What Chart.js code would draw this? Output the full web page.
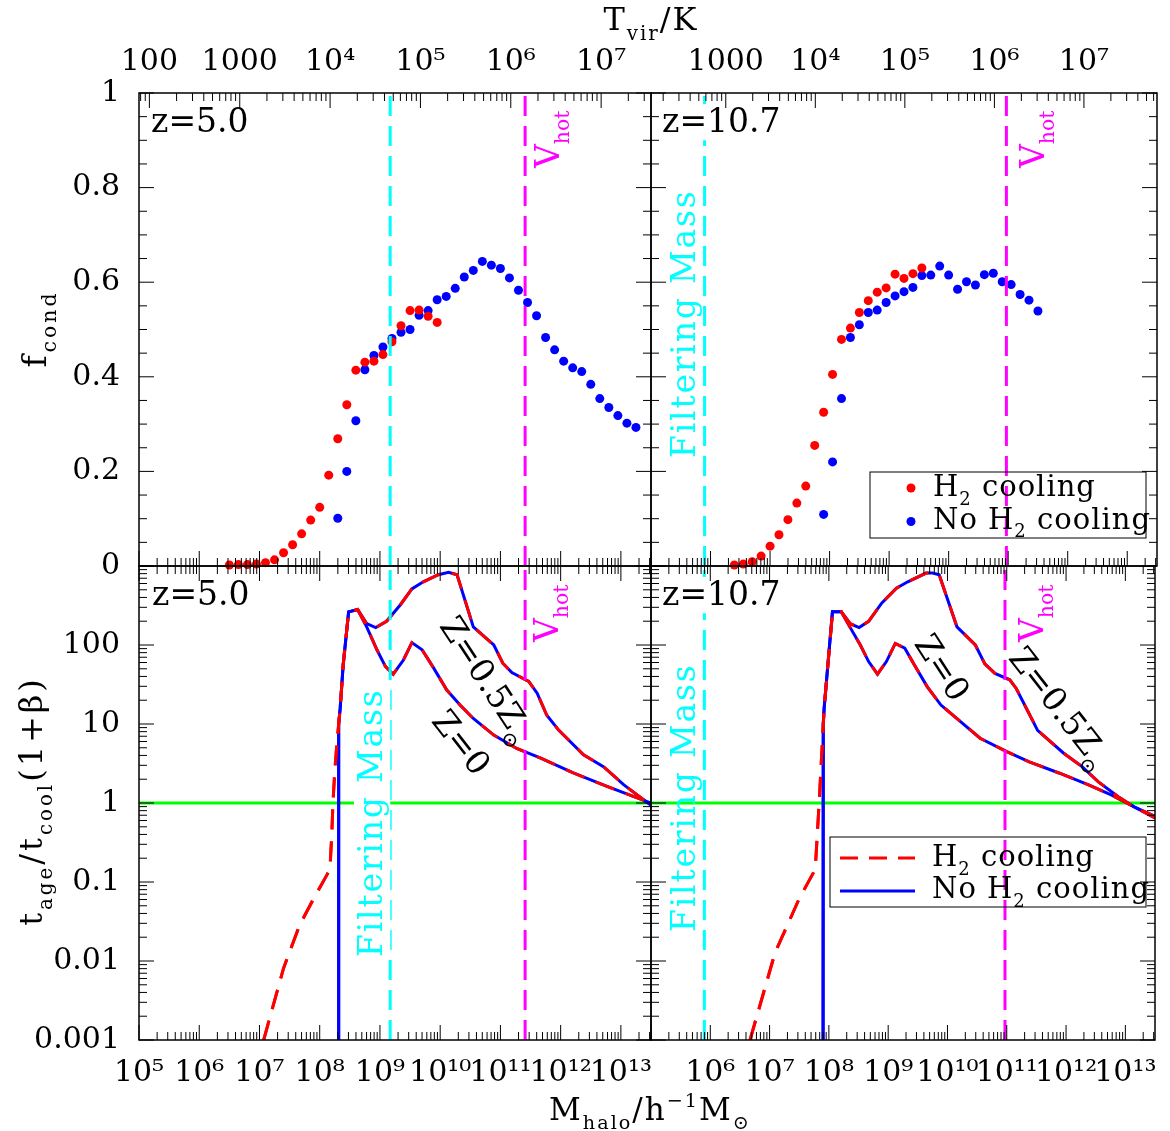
<!DOCTYPE html>
<html>
<head>
<meta charset="utf-8">
<script src="https://cdn.jsdelivr.net/npm/chart.js@4.4.1/dist/chart.umd.min.js"></script>
<style>
  html, body { margin: 0; padding: 0; background: #fff; }
  #wrap { position: relative; width: 1170px; height: 1131px; }
  #wrap canvas { position: absolute; left: 0; top: 0; }
</style>
</head>
<body>
<div id="wrap">
  <canvas id="topLeft" width="1170" height="1131"></canvas>
  <canvas id="topRight" width="1170" height="1131"></canvas>
  <canvas id="botLeft" width="1170" height="1131"></canvas>
  <canvas id="botRight" width="1170" height="1131"></canvas>
</div>
<script>
// halo masses are log10(M / h^-1 Msun), ratios in the bottom panels are log10 values

// f_cond, z = 5.0
const massZ5H2 = [6.50, 6.65, 6.80, 6.95, 7.10, 7.25, 7.40, 7.55, 7.70, 7.85, 8.00, 8.15, 8.30, 8.45, 8.60, 8.75, 8.90, 9.05, 9.20, 9.35, 9.50, 9.65, 9.80, 9.95];
const fcondZ5H2 = [0.002, 0.003, 0.003, 0.004, 0.007, 0.013, 0.028, 0.045, 0.068, 0.097, 0.124, 0.192, 0.269, 0.341, 0.414, 0.431, 0.433, 0.447, 0.474, 0.508, 0.540, 0.541, 0.528, 0.515];
const massZ5NoH2 = [8.30, 8.45, 8.60, 8.75, 8.90, 9.05, 9.20, 9.35, 9.50, 9.65, 9.80, 9.95, 10.10, 10.25, 10.40, 10.55, 10.70, 10.85, 11.00, 11.15, 11.30, 11.45, 11.60, 11.75, 11.90, 12.05, 12.20, 12.35, 12.50, 12.65, 12.80, 12.95, 13.10, 13.25];
const fcondZ5NoH2 = [0.101, 0.200, 0.307, 0.415, 0.445, 0.463, 0.481, 0.494, 0.500, 0.530, 0.540, 0.563, 0.570, 0.587, 0.611, 0.625, 0.644, 0.636, 0.629, 0.609, 0.583, 0.557, 0.529, 0.483, 0.457, 0.433, 0.419, 0.411, 0.384, 0.354, 0.335, 0.318, 0.302, 0.293];

// f_cond, z = 10.7
const massZ107H2 = [6.40, 6.55, 6.70, 6.85, 7.00, 7.15, 7.30, 7.45, 7.60, 7.75, 7.90, 8.05, 8.20, 8.35, 8.50, 8.65, 8.80, 8.95, 9.10, 9.25, 9.40, 9.55];
const fcondZ107H2 = [0.002, 0.004, 0.009, 0.021, 0.042, 0.066, 0.098, 0.133, 0.169, 0.255, 0.325, 0.405, 0.479, 0.503, 0.536, 0.561, 0.579, 0.588, 0.617, 0.608, 0.618, 0.630];
const massZ107NoH2 = [7.90, 8.05, 8.20, 8.35, 8.50, 8.65, 8.80, 8.95, 9.10, 9.25, 9.40, 9.55, 9.70, 9.85, 10.00, 10.15, 10.30, 10.45, 10.60, 10.75, 10.90, 11.05, 11.20, 11.35, 11.50];
const fcondZ107NoH2 = [0.109, 0.220, 0.354, 0.483, 0.510, 0.536, 0.541, 0.557, 0.571, 0.580, 0.589, 0.614, 0.615, 0.634, 0.615, 0.585, 0.601, 0.594, 0.616, 0.619, 0.601, 0.595, 0.574, 0.562, 0.539];

// t_age / t_cool (1+beta), z = 5.0 : low-mass rise, then the two metallicity branches
const riseZ5H2M = [7.07, 7.40, 7.67, 7.90, 8.12, 8.17, 8.20, 8.22, 8.25, 8.29, 8.34, 8.39, 8.48];
const riseZ5H2R = [-3.00, -2.09, -1.54, -1.21, -0.91, -0.84, -0.40, 0.00, 0.40, 0.80, 1.20, 1.75, 2.42];
const riseZ5NoH2M = [8.31, 8.315, 8.34, 8.39, 8.48];
const riseZ5NoH2R = [-6.00, 1.00, 1.20, 1.75, 2.42];
const tailZ5SolarM = [8.63, 8.78, 8.93, 9.11, 9.34, 9.53, 9.72, 9.97, 10.14, 10.28, 10.55, 10.89, 11.04, 11.19, 11.47, 11.61, 11.77, 11.97, 12.38, 12.71, 13.05, 13.50];
const tailZ5SolarR = [2.45, 2.27, 2.22, 2.30, 2.51, 2.71, 2.80, 2.89, 2.92, 2.89, 2.23, 2.00, 1.77, 1.65, 1.54, 1.39, 1.11, 0.92, 0.61, 0.46, 0.23, -0.03];
const tailZ5ZeroM = [8.63, 8.78, 8.95, 9.09, 9.22, 9.39, 9.53, 9.70, 9.89, 10.11, 10.33, 10.55, 10.89, 11.27, 11.66, 12.21, 12.77, 13.50];
const tailZ5ZeroR = [2.45, 2.23, 1.94, 1.73, 1.63, 1.81, 2.03, 1.94, 1.71, 1.43, 1.24, 1.07, 0.86, 0.69, 0.57, 0.38, 0.21, 0.00];

// t_age / t_cool (1+beta), z = 10.7
const riseZ107H2M = [6.67, 7.09, 7.50, 7.77, 7.84, 7.92, 8.06];
const riseZ107H2R = [-3.00, -1.90, -1.21, -0.84, 0.06, 1.20, 2.40];
const riseZ107NoH2M = [7.90, 7.905, 7.92, 8.06];
const riseZ107NoH2R = [-6.00, 1.00, 1.20, 2.42];
const tailZ107SolarM = [8.21, 8.36, 8.51, 8.67, 8.89, 9.14, 9.33, 9.64, 9.75, 9.86, 10.16, 10.47, 10.63, 10.80, 11.05, 11.16, 11.33, 11.52, 11.96, 12.27, 12.54, 12.88, 13.15, 13.50];
const tailZ107SolarR = [2.42, 2.27, 2.22, 2.30, 2.53, 2.72, 2.80, 2.91, 2.91, 2.89, 2.23, 2.00, 1.76, 1.64, 1.56, 1.45, 1.20, 0.92, 0.63, 0.46, 0.27, 0.08, -0.05, -0.19];
const tailZ107ZeroM = [8.21, 8.36, 8.53, 8.67, 8.82, 8.97, 9.12, 9.28, 9.44, 9.66, 9.89, 10.22, 10.55, 11.00, 11.38, 11.88, 12.38, 12.77, 13.15, 13.50];
const tailZ107ZeroR = [2.42, 2.22, 2.00, 1.79, 1.63, 1.79, 2.02, 1.96, 1.75, 1.47, 1.24, 1.03, 0.82, 0.65, 0.52, 0.38, 0.23, 0.10, -0.05, -0.17];

// reference masses (log10) and the unity line
const filterMassZ5 = 9.17, filterMassZ107 = 5.90;
const vhotMassZ5 = 11.41, vhotMassZ107 = 10.97;
const unityRatio = 1;

// axis ranges (log10)
const massRange = [5, 13.5];
const ratioRange = [-3, 3];
const tvirRangeZ5 = [1.885, 7.552];
const tvirRangeZ107 = [2.165, 7.816];

const SERIF = '"DejaVu Serif", "Liberation Serif", serif';
const RED = '#ff0000', BLUE = '#0000ff', CYAN = '#00ffff', MAGENTA = '#ff00ff', GREEN = '#00ff00';
const tickFont = { family: SERIF, size: 30 };
const SUP = { '0': '⁰', '1': '¹', '2': '²', '3': '³', '4': '⁴', '5': '⁵', '6': '⁶', '7': '⁷', '8': '⁸', '9': '⁹', '-': '⁻' };

function sup(n) { return String(n).split('').map(c => SUP[c]).join(''); }
function pts(ms, vs) { return ms.map((m, i) => ({ x: Math.pow(10, m), y: vs[i] })); }
function logPts(ms, rs) { return ms.map((m, i) => ({ x: Math.pow(10, m), y: Math.pow(10, rs[i]) })); }
function vline(m, y0, y1) { return [{ x: Math.pow(10, m), y: y0 }, { x: Math.pow(10, m), y: y1 }]; }

// exponent of v if it is a power of ten inside the scale, else null
function decade(v, scale) {
  if (v < scale.min * 0.9999 || v > scale.max * 1.0001) return null;
  const e = Math.round(Math.log10(v));
  return Math.abs(Math.log10(v) - e) < 1e-6 ? e : null;
}

// fixed axis box sizes so the four plot areas line up exactly
const fitTo = size => s => { if (s.isHorizontal()) s.height = size; else s.width = size; };
const noGrid = { display: false, drawTicks: false };

function massAxis(labels, hideFirst, size) {
  return {
    type: 'logarithmic', position: 'bottom',
    min: Math.pow(10, massRange[0]), max: Math.pow(10, massRange[1]),
    grid: noGrid, border: { display: false },
    ticks: {
      display: labels, autoSkip: false, maxRotation: 0, padding: 15, font: tickFont, color: '#000',
      callback: function (v) {
        const e = decade(v, this);
        if (e === null || (hideFirst && e === massRange[0])) return '';
        return '10' + sup(e);
      }
    },
    afterFit: fitTo(size)
  };
}

function tvirAxis(range) {
  return {
    type: 'logarithmic', position: 'top',
    min: Math.pow(10, range[0]), max: Math.pow(10, range[1]),
    grid: noGrid, border: { display: false },
    ticks: {
      autoSkip: false, maxRotation: 0, padding: 13, font: tickFont, color: '#000',
      callback: function (v) {
        const e = decade(v, this);
        if (e === null) return '';
        return e === 2 ? '100' : e === 3 ? '1000' : '10' + sup(e);
      }
    },
    afterFit: fitTo(93)
  };
}

function fcondAxis(labels, size) {
  return {
    type: 'linear', position: 'left', min: 0, max: 1,
    grid: noGrid, border: { display: false },
    ticks: { display: labels, stepSize: 0.2, padding: 19, font: tickFont, color: '#000', callback: v => String(+v.toFixed(1)) },
    afterFit: fitTo(size)
  };
}

function ratioAxis(labels, size) {
  return {
    type: 'logarithmic', position: 'left',
    min: Math.pow(10, ratioRange[0]), max: Math.pow(10, ratioRange[1]),
    grid: noGrid, border: { display: false },
    ticks: {
      display: labels, autoSkip: false, padding: 19, font: tickFont, color: '#000',
      callback: function (v) {
        const e = decade(v, this);
        if (e === null || e === ratioRange[1]) return '';
        return e < 0 ? Math.pow(10, e).toFixed(-e) : String(Math.round(Math.pow(10, e)));
      }
    },
    afterFit: fitTo(size)
  };
}

// text with sub/superscript pieces, optionally rotated
function richText(ctx, t) {
  const size = t.size || 33;
  ctx.save();
  ctx.translate(t.x, t.y);
  if (t.rot) ctx.rotate(t.rot * Math.PI / 180);
  ctx.letterSpacing = (t.ls || 0) + 'px';
  ctx.textBaseline = 'alphabetic';
  ctx.textAlign = 'left';
  let w = 0;
  const segs = t.parts.map(([str, kind]) => {
    const fs = kind ? size * 0.62 : size;
    ctx.font = fs + 'px ' + SERIF;
    const seg = { str, fs, x: w, dy: kind === 'sub' ? size * 0.3 : kind === 'sup' ? -size * 0.42 : 0 };
    w += ctx.measureText(str).width;
    return seg;
  });
  const x0 = t.align === 'center' ? -w / 2 : t.align === 'right' ? -w : 0;
  const y0 = t.middle ? size * 0.36 : 0;
  if (t.bg) {
    ctx.fillStyle = '#fff';
    ctx.fillRect(x0 - 3, y0 - size * 0.85, w + 6, size * 1.1);
  }
  ctx.fillStyle = t.color || '#000';
  segs.forEach(g => { ctx.font = g.fs + 'px ' + SERIF; ctx.fillText(g.str, x0 + g.x, y0 + g.dy); });
  ctx.restore();
}

function tickValues(scale) {
  const out = [];
  if (scale.type === 'logarithmic') {
    for (let e = Math.floor(Math.log10(scale.min)); e <= Math.ceil(Math.log10(scale.max)); e++) {
      for (let k = 1; k <= 9; k++) {
        const v = k * Math.pow(10, e);
        if (v >= scale.min * 0.9999 && v <= scale.max * 1.0001) out.push([v, k === 1]);
      }
    }
  } else {
    for (let i = 0; i <= 20; i++) out.push([i * 0.05, i % 4 === 0]);
  }
  return out;
}

// inward pointing ticks on one side of the panel
function ticksAlong(ctx, scale, edge, dir) {
  const horiz = scale.isHorizontal();
  ctx.beginPath();
  tickValues(scale).forEach(([v, major]) => {
    const p = scale.getPixelForValue(v);
    const len = (major ? 15 : 8) * dir;
    if (horiz) { ctx.moveTo(p, edge); ctx.lineTo(p, edge + len); }
    else { ctx.moveTo(edge, p); ctx.lineTo(edge + len, p); }
  });
  ctx.stroke();
}

function drawLegend(ctx, lg) {
  ctx.save();
  ctx.strokeStyle = '#000';
  ctx.lineWidth = 1;
  ctx.strokeRect(lg.box[0], lg.box[1], lg.box[2], lg.box[3]);
  lg.rows.forEach(r => {
    if (r.dot) {
      ctx.fillStyle = r.color;
      ctx.beginPath();
      ctx.arc(r.mx, r.my, 4.5, 0, 2 * Math.PI);
      ctx.fill();
    } else {
      ctx.strokeStyle = r.color;
      ctx.lineWidth = 3;
      ctx.setLineDash(r.dash || []);
      ctx.beginPath();
      ctx.moveTo(r.mx[0], r.my);
      ctx.lineTo(r.mx[1], r.my);
      ctx.stroke();
      ctx.setLineDash([]);
    }
    richText(ctx, { parts: r.parts, x: r.tx, y: r.ty, size: 29, ls: 1 });
  });
  ctx.restore();
}

function deco(cfg) {
  return {
    id: 'deco',
    afterDatasetsDraw(chart) {
      const ctx = chart.ctx, a = chart.chartArea, s = chart.scales;
      ctx.save();
      (cfg.texts || []).forEach(t => richText(ctx, t));
      ctx.strokeStyle = '#000';
      ctx.lineWidth = 1;
      ticksAlong(ctx, s.x, a.bottom, -1);
      ticksAlong(ctx, s[cfg.topAxis], a.top, 1);
      ticksAlong(ctx, s.y, a.left, 1);
      ticksAlong(ctx, s.y, a.right, -1);
      ctx.lineWidth = 1.5;
      ctx.strokeRect(a.left, a.top, a.right - a.left, a.bottom - a.top);
      if (cfg.legend) drawLegend(ctx, cfg.legend);
      ctx.restore();
    }
  };
}

function makePanel(id, padding, scales, datasets, cfg) {
  return new Chart(document.getElementById(id), {
    type: 'scatter',
    data: { datasets: datasets },
    options: {
      responsive: false, animation: false, events: [],
      layout: { padding: padding, autoPadding: false },
      plugins: { legend: { display: false }, tooltip: { enabled: false } },
      scales: scales
    },
    plugins: [deco(cfg)]
  });
}

function refLine(data, color) {
  return { data: data, showLine: true, borderColor: color, borderWidth: 3, borderDash: [20, 10], pointRadius: 0, pointHoverRadius: 0 };
}
function dots(label, data, color) {
  return { label: label, data: data, backgroundColor: color, borderWidth: 0, pointRadius: 4.5, pointHoverRadius: 4.5, clip: false };
}
function curve(label, data, color, dashed) {
  return { label: label, data: data, showLine: true, borderColor: color, borderWidth: 3, borderDash: dashed ? [20, 12] : [], pointRadius: 0, pointHoverRadius: 0, tension: 0 };
}

const massLo = Math.pow(10, massRange[0]), massHi = Math.pow(10, massRange[1]);
const ratioLo = Math.pow(10, ratioRange[0]), ratioHi = Math.pow(10, ratioRange[1]);
const vhotText = (x, y) => ({ parts: [['V', ''], ['hot', 'sub']], x: x, y: y, rot: -90, color: MAGENTA, size: 33 });
const filterText = (x, y, bg) => ({ parts: [['Filtering Mass', '']], x: x, y: y, rot: -90, color: CYAN, size: 33, ls: 1.8, bg: bg });
const zText = (label, x, y) => ({ parts: [[label, '']], x: x, y: y, size: 33, bg: true });
const solarText = (x, y, rot) => ({ parts: [['Z=0.5Z', ''], ['⊙', 'sub']], x: x, y: y, rot: rot, size: 33, align: 'center', middle: true });
const zeroText = (x, y, rot) => ({ parts: [['Z=0', '']], x: x, y: y, rot: rot, size: 33, align: 'center', middle: true });
const h2Parts = [['H', ''], ['2', 'sub'], [' cooling', '']];
const noH2Parts = [['No H', ''], ['2', 'sub'], [' cooling', '']];

// top left: z = 5.0, condensed fraction
makePanel('topLeft', { left: 0, top: 0, right: 519, bottom: 565 },
  { x: massAxis(false, false, 0), xt: tvirAxis(tvirRangeZ5), y: fcondAxis(true, 139) },
  [
    refLine(vline(filterMassZ5, 0, 1), CYAN),
    refLine(vline(vhotMassZ5, 0, 1), MAGENTA),
    dots('H2 cooling', pts(massZ5H2, fcondZ5H2), RED),
    dots('No H2 cooling', pts(massZ5NoH2, fcondZ5NoH2), BLUE)
  ],
  {
    topAxis: 'xt',
    texts: [
      zText('z=5.0', 151, 132),
      vhotText(559, 168),
      { parts: [['T', ''], ['vir', 'sub'], ['/K', '']], x: 651, y: 30, size: 32, ls: 2, align: 'center' },
      { parts: [['f', ''], ['cond', 'sub']], x: 46, y: 329, rot: -90, size: 33, ls: 3, align: 'center' }
    ]
  });

// top right: z = 10.7, condensed fraction
makePanel('topRight', { left: 651, top: 0, right: 9, bottom: 565 },
  { x: massAxis(false, true, 0), xt: tvirAxis(tvirRangeZ107), y: fcondAxis(false, 0) },
  [
    refLine(vline(filterMassZ107, 0, 1), CYAN),
    refLine(vline(vhotMassZ107, 0, 1), MAGENTA),
    dots('H2 cooling', pts(massZ107H2, fcondZ107H2), RED),
    dots('No H2 cooling', pts(massZ107NoH2, fcondZ107NoH2), BLUE)
  ],
  {
    topAxis: 'xt',
    texts: [zText('z=10.7', 662, 132), vhotText(1044, 168), filterText(695, 458, false)],
    legend: {
      box: [870, 472, 276, 66],
      rows: [
        { dot: true, color: RED, mx: 911, my: 488, parts: h2Parts, tx: 933, ty: 496 },
        { dot: true, color: BLUE, mx: 911, my: 521.5, parts: noH2Parts, tx: 933, ty: 528.5 }
      ]
    }
  });

// bottom left: z = 5.0, timescale ratio
makePanel('botLeft', { left: 0, top: 566, right: 519, bottom: 0 },
  { x: massAxis(true, false, 91), y: ratioAxis(true, 139) },
  [
    refLine(vline(filterMassZ5, ratioLo, ratioHi), CYAN),
    refLine(vline(vhotMassZ5, ratioLo, ratioHi), MAGENTA),
    curve('H2 cooling, Z=0.5', logPts(riseZ5H2M.concat(tailZ5SolarM), riseZ5H2R.concat(tailZ5SolarR)), RED, true),
    curve('H2 cooling, Z=0', logPts(riseZ5H2M.concat(tailZ5ZeroM), riseZ5H2R.concat(tailZ5ZeroR)), RED, true),
    curve('No H2 cooling, Z=0.5', logPts(riseZ5NoH2M.concat(tailZ5SolarM), riseZ5NoH2R.concat(tailZ5SolarR)), BLUE, false),
    curve('No H2 cooling, Z=0', logPts(riseZ5NoH2M.concat(tailZ5ZeroM), riseZ5NoH2R.concat(tailZ5ZeroR)), BLUE, false),
    { data: [{ x: massLo, y: unityRatio }, { x: massHi, y: unityRatio }], showLine: true, borderColor: GREEN, borderWidth: 3, pointRadius: 0 }
  ],
  {
    topAxis: 'x',
    texts: [
      zText('z=5.0', 152, 605),
      vhotText(558, 642),
      filterText(382, 957, true),
      solarText(488, 679, 56.7),
      zeroText(462, 742, 52),
      { parts: [['M', ''], ['halo', 'sub'], ['/h', ''], ['−1', 'sup'], ['M', ''], ['⊙', 'sub']], x: 650, y: 1120, size: 31, ls: 2, align: 'center' },
      { parts: [['t', ''], ['age', 'sub'], ['/t', ''], ['cool', 'sub'], ['(1+β)', '']], x: 42, y: 801, rot: -90, size: 32, ls: 3, align: 'center' }
    ]
  });

// bottom right: z = 10.7, timescale ratio
makePanel('botRight', { left: 651, top: 566, right: 9, bottom: 0 },
  { x: massAxis(true, true, 91), y: ratioAxis(false, 0) },
  [
    refLine(vline(filterMassZ107, ratioLo, ratioHi), CYAN),
    refLine(vline(vhotMassZ107, ratioLo, ratioHi), MAGENTA),
    curve('H2 cooling, Z=0.5', logPts(riseZ107H2M.concat(tailZ107SolarM), riseZ107H2R.concat(tailZ107SolarR)), RED, true),
    curve('H2 cooling, Z=0', logPts(riseZ107H2M.concat(tailZ107ZeroM), riseZ107H2R.concat(tailZ107ZeroR)), RED, true),
    curve('No H2 cooling, Z=0.5', logPts(riseZ107NoH2M.concat(tailZ107SolarM), riseZ107NoH2R.concat(tailZ107SolarR)), BLUE, false),
    curve('No H2 cooling, Z=0', logPts(riseZ107NoH2M.concat(tailZ107ZeroM), riseZ107NoH2R.concat(tailZ107ZeroR)), BLUE, false),
    { data: [{ x: massLo, y: unityRatio }, { x: massHi, y: unityRatio }], showLine: true, borderColor: GREEN, borderWidth: 3, pointRadius: 0 }
  ],
  {
    topAxis: 'x',
    texts: [
      zText('z=10.7', 662, 605),
      vhotText(1043, 642),
      filterText(695, 932, false),
      zeroText(943, 667, 57),
      solarText(1061, 707, 52)
    ],
    legend: {
      box: [830, 837, 316, 70],
      rows: [
        { dot: false, color: RED, dash: [18, 11], mx: [840, 915], my: 858, parts: h2Parts, tx: 932, ty: 866 },
        { dot: false, color: BLUE, mx: [840, 915], my: 891, parts: noH2Parts, tx: 932, ty: 898 }
      ]
    }
  });
</script>
</body>
</html>
